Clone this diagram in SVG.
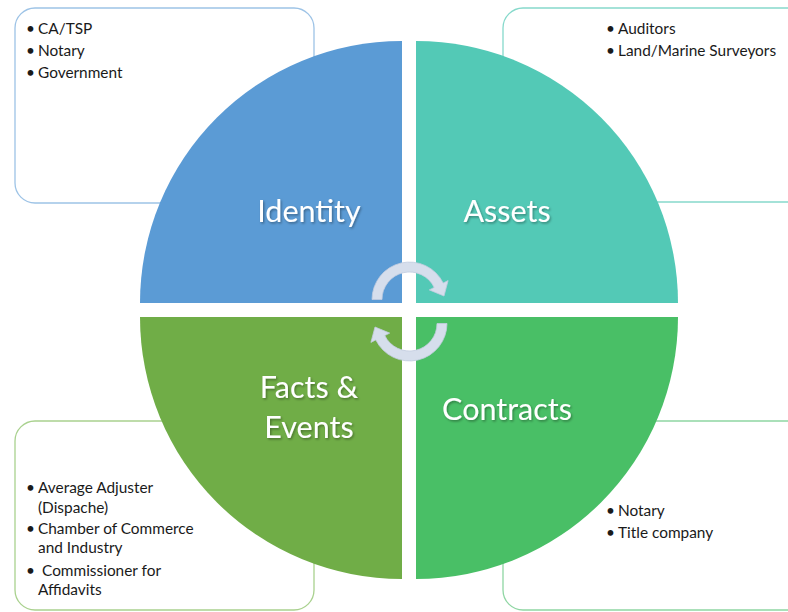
<svg xmlns="http://www.w3.org/2000/svg" width="788" height="612" viewBox="0 0 788 612">
<defs>
<style>
.box{fill:#ffffff;stroke-width:1.3}
.t{font-family:Lato,"Open Sans","Liberation Sans",sans-serif;font-size:15.4px;fill:#1a1a1a}
.big{font-family:Lato,"Open Sans","Liberation Sans",sans-serif;font-size:30.5px;fill:#ffffff;text-anchor:middle;filter:url(#sh)}
.arr{fill:#D6DEEC;stroke:#C3CDE0;stroke-width:0.8}
</style>
<filter id="sh" x="-10%" y="-20%" width="120%" height="150%">
<feDropShadow dx="1.2" dy="1.5" stdDeviation="1" flood-color="#000" flood-opacity="0.35"/>
</filter>
</defs>
<rect width="788" height="612" fill="#ffffff"/>
<g id="box-identity"><rect class="box" x="15" y="8" width="299" height="195" rx="20" stroke="#9DC3E6"/>
<text class="t" x="26" y="34">•</text><text class="t" x="38" y="34">CA/TSP</text>
<text class="t" x="26" y="56">•</text><text class="t" x="38" y="56">Notary</text>
<text class="t" x="26" y="77.5">•</text><text class="t" x="38" y="77.5">Government</text></g>
<g id="box-assets"><rect class="box" x="503" y="8" width="310" height="194" rx="20" stroke="#86D9CB"/>
<text class="t" x="606" y="34">•</text><text class="t" x="618" y="34">Auditors</text>
<text class="t" x="606" y="56">•</text><text class="t" x="618" y="56">Land/Marine Surveyors</text></g>
<g id="box-facts"><rect class="box" x="15" y="421" width="299" height="189" rx="20" stroke="#A9D18E"/>
<text class="t" x="26" y="493.3">•</text><text class="t" x="38" y="493.3">Average Adjuster</text>
<text class="t" x="38" y="513.3">(Dispache)</text>
<text class="t" x="26" y="534">•</text><text class="t" x="38" y="534">Chamber of Commerce</text>
<text class="t" x="38" y="553.3">and Industry</text>
<text class="t" x="26" y="575.5">•</text><text class="t" x="42" y="575.5">Commissioner for</text>
<text class="t" x="38" y="595">Affidavits</text></g>
<g id="box-contracts"><rect class="box" x="503" y="421" width="310" height="189" rx="20" stroke="#8FD6A3"/>
<text class="t" x="606" y="516">•</text><text class="t" x="618" y="516">Notary</text>
<text class="t" x="606" y="538">•</text><text class="t" x="618" y="538">Title company</text></g>
<g id="identity"><path d="M402,303 L140,303 A262,262 0 0 1 402,41 Z" fill="#5B9BD5"/>
<text class="big" x="309" y="222">Identity</text></g>
<g id="assets"><path d="M416,303 L416,41 A262,262 0 0 1 678,303 Z" fill="#53C9B6"/>
<text class="big" x="507" y="222">Assets</text></g>
<g id="facts-events"><path d="M402,317 L402,579 A262,262 0 0 1 140,317 Z" fill="#70AD47"/>
<text class="big" x="309" y="398">Facts &amp;</text><text class="big" x="309" y="438">Events</text></g>
<g id="contracts"><path d="M416,317 L678,317 A262,262 0 0 1 416,579 Z" fill="#49BF66"/>
<text class="big" x="507" y="420">Contracts</text></g>
<g id="connectors">
<path class="arr" d="M372,299.5 A37.5,37.5 0 0 1 443.2,283.1 L448.1,280.6 L444,296 L429.3,289.9 L434.2,287.4 A27.5,27.5 0 0 0 382,299.5 Z"/>
<path class="arr" transform="rotate(180 409.5 311.5)" d="M372,299.5 A37.5,37.5 0 0 1 443.2,283.1 L448.1,280.6 L444,296 L429.3,289.9 L434.2,287.4 A27.5,27.5 0 0 0 382,299.5 Z"/>
</g>
</svg>
